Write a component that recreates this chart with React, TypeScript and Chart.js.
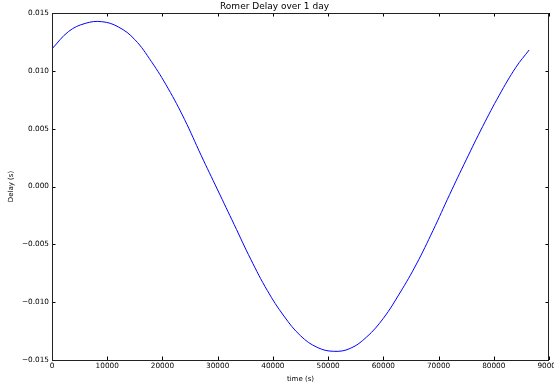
import React, { useEffect, useRef } from "react";
import { Chart, registerables } from "chart.js";

Chart.register(...registerables);

// time (s)
const times = [
  0, 3000, 6000, 9000, 12000, 15000, 18000, 21000, 24000, 27000, 30000, 33000,
  36000, 39000, 42000, 45000, 48000, 51000, 54000, 57000, 60000, 63000, 66000,
  69000, 72000, 75000, 78000, 81000, 84000, 86400,
];
// Delay (s)
const delays = [
  0.0119, 0.0134, 0.0141, 0.01425, 0.0138, 0.0127, 0.0108, 0.0085, 0.0058,
  0.0027, -0.0003, -0.0033, -0.0063, -0.009, -0.0112, -0.0129, -0.0139,
  -0.01425, -0.014, -0.013, -0.0114, -0.0092, -0.0067, -0.0038, -0.0007,
  0.0023, 0.0052, 0.0079, 0.0103, 0.0118,
];

const xTicks = [0, 10000, 20000, 30000, 40000, 50000, 60000, 70000, 80000, 90000];
const yTickLabels = ["−0.015", "−0.010", "−0.005", "0.000", "0.005", "0.010", "0.015"];
const yTicks = [-0.015, -0.01, -0.005, 0, 0.005, 0.01, 0.015];

const FONT = "DejaVu Sans";

const frameAndTicks = {
  id: "frameAndTicks",
  afterDraw(chart: any) {
    const { ctx, chartArea } = chart;
    const { left, right, top, bottom } = chartArea;
    const x = chart.scales.x;
    const y = chart.scales.y;
    const len = 3.5;
    ctx.save();
    ctx.strokeStyle = "#000";
    ctx.lineWidth = 1;
    ctx.beginPath();
    for (const v of xTicks) {
      const px = Math.round(x.getPixelForValue(v)) + 0.5;
      ctx.moveTo(px, bottom);
      ctx.lineTo(px, bottom - len);
      ctx.moveTo(px, top);
      ctx.lineTo(px, top + len);
    }
    for (const v of yTicks) {
      const py = Math.round(y.getPixelForValue(v)) + 0.5;
      ctx.moveTo(left, py);
      ctx.lineTo(left + len, py);
      ctx.moveTo(right, py);
      ctx.lineTo(right - len, py);
    }
    ctx.stroke();
    ctx.strokeStyle = "#222";
    ctx.strokeRect(
      Math.round(left) + 0.5,
      Math.round(top) + 0.5,
      Math.round(right - left) - 1,
      Math.round(bottom - top)
    );
    ctx.restore();
  },
};

export default function App() {
  const ref = useRef<HTMLCanvasElement>(null);
  useEffect(() => {
    if (!ref.current) return;
    const chart = new Chart(ref.current, {
      type: "scatter",
      data: {
        datasets: [
          {
            data: times.map((t, i) => ({ x: t, y: delays[i] })),
            showLine: true,
            borderColor: "#0000ff",
            borderWidth: 1,
            pointRadius: 0,
            tension: 0.4,
            fill: false,
          },
        ],
      },
      options: {
        responsive: false,
        animation: false,
        devicePixelRatio: 1,
        layout: { padding: { left: 0, right: 5, top: 0, bottom: 0 } },
        plugins: {
          legend: { display: false },
          tooltip: { enabled: false },
          title: {
            display: true,
            text: "Romer Delay over 1 day",
            color: "#000",
            font: { family: FONT, size: 9, weight: "normal", lineHeight: 1 },
            padding: { top: 2, bottom: 2 },
          },
        },
        scales: {
          x: {
            type: "linear",
            min: 0,
            max: 90000,
            grid: { display: false, drawTicks: false },
            border: { display: false },
            afterBuildTicks: (s: any) => {
              s.ticks = xTicks.map((v) => ({ value: v }));
            },
            ticks: {
              color: "#000",
              padding: 2,
              maxRotation: 0,
              autoSkip: false,
              font: { family: FONT, size: 7.3 },
              callback: (v: any) => String(v),
            },
            title: {
              display: true,
              text: "time (s)",
              color: "#000",
              font: { family: FONT, size: 7, lineHeight: 1.2 },
              padding: { top: 0, bottom: 2 },
            },
            afterFit: (s: any) => {
              s.height = 25;
              s.paddingLeft = 0;
              s.paddingRight = 0;
            },
          },
          y: {
            type: "linear",
            min: -0.015,
            max: 0.015,
            grid: { display: false, drawTicks: false },
            border: { display: false },
            afterBuildTicks: (s: any) => {
              s.ticks = yTicks.map((v) => ({ value: v }));
            },
            ticks: {
              color: "#000",
              padding: 3,
              autoSkip: false,
              font: { family: FONT, size: 7.3 },
              callback: (v: any) => {
                const i = yTicks.findIndex((t) => Math.abs(t - v) < 1e-9);
                return i >= 0 ? yTickLabels[i] : "";
              },
            },
            title: {
              display: true,
              text: "Delay (s)",
              color: "#000",
              font: { family: FONT, size: 7, lineHeight: 1.2 },
              padding: { top: 7, bottom: 0 },
            },
            afterFit: (s: any) => {
              s.width = 52;
              s.paddingTop = 0;
              s.paddingBottom = 0;
            },
          },
        },
      },
      plugins: [frameAndTicks],
    } as any);
    return () => chart.destroy();
  }, []);
  return (
    <div style={{ position: "fixed", left: 0, top: 0, width: 554, height: 385, background: "#fff" }}>
      <canvas ref={ref} width={554} height={385} style={{ display: "block" }} />
    </div>
  );
}
